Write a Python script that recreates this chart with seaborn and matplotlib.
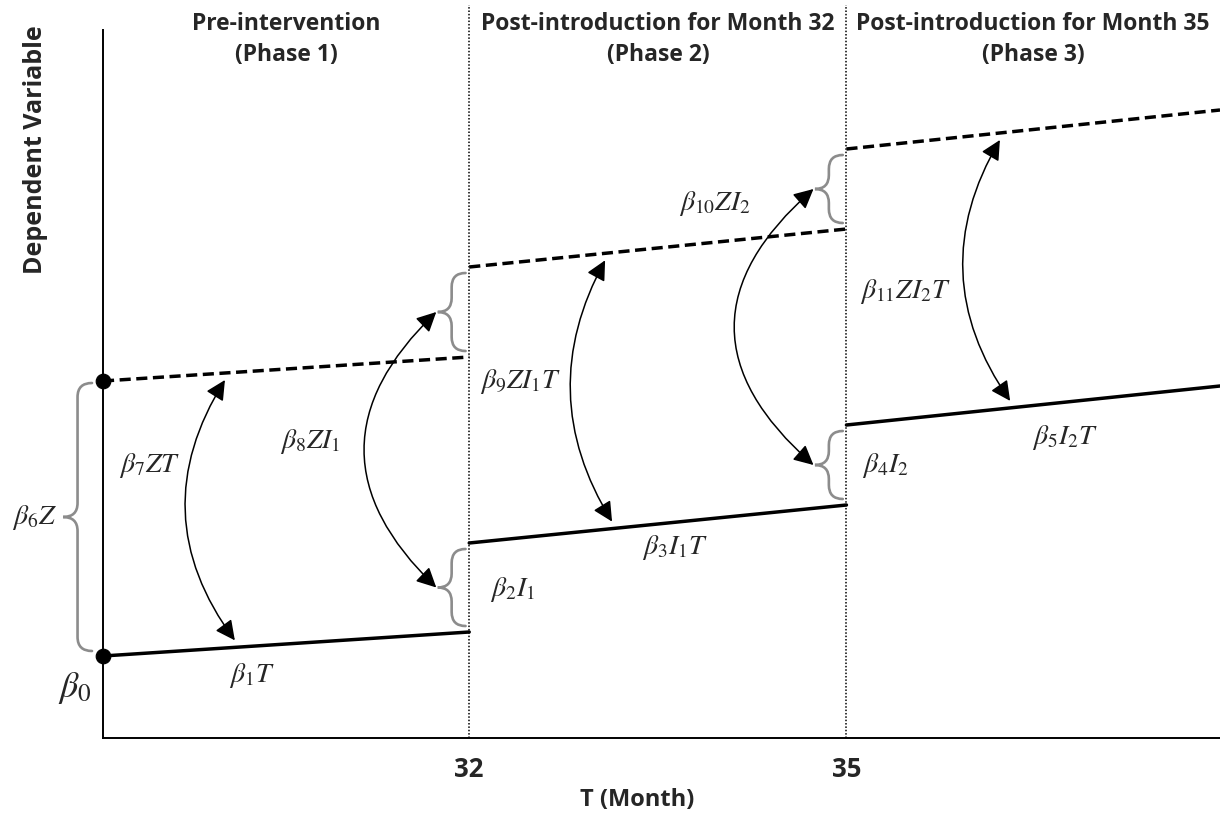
import numpy as np
import pandas as pd
import matplotlib.pyplot as plt
from matplotlib.path import Path
from matplotlib.patches import PathPatch, FancyArrowPatch
import seaborn as sns

## Schematic data (phase boundaries in schematic units, levels in arbitrary units)
PHASE_START = [0.0, 1.0, 2.03]
PHASE_END = [1.0, 2.03, 3.05]
PHASE_TITLES = ['Pre-intervention\n(Phase 1)',
                'Post-introduction for Month 32\n(Phase 2)',
                'Post-introduction for Month 35\n(Phase 3)']
TICK_POS = [1.0, 2.03]
TICK_LABELS = ['32', '35']

CONTROL_START = [0.82, 1.95, 3.13]
CONTROL_END = [1.06, 2.33, 3.52]
INTERV_START = [3.57, 4.71, 5.89]
INTERV_END = [3.81, 5.09, 6.28]

# coefficient labels: (text, x, y)
LABELS = [
    (r'$\beta_6Z$', -0.187, 2.20),
    (r'$\beta_7ZT$', 0.128, 2.72),
    (r'$\beta_8ZI_1$', 0.565, 2.96),
    (r'$\beta_1T$', 0.407, 0.63),
    (r'$\beta_2I_1$', 1.117, 1.48),
    (r'$\beta_9ZI_1T$', 1.139, 3.56),
    (r'$\beta_3I_1T$', 1.562, 1.90),
    (r'$\beta_{10}ZI_2$', 1.671, 5.34),
    (r'$\beta_4I_2$', 2.135, 2.72),
    (r'$\beta_{11}ZI_2T$', 2.19, 4.46),
    (r'$\beta_5I_2T$', 2.627, 3.00),
]

# slope arrows: (phase, x_top, x_bottom, rad)
SLOPE_ARROWS = [(0, 0.333, 0.36, 0.34), (1, 1.371, 1.39, 0.29), (2, 2.449, 2.477, 0.32)]

sns.set_theme(style='white')
plt.rcParams['font.family'] = ['Open Sans', 'DejaVu Sans']
plt.rcParams['mathtext.fontset'] = 'stix'

def lineValue(starts, ends, phase, x):
    ''' level of a segment at position x '''
    x0, x1 = PHASE_START[phase], PHASE_END[phase]
    return starts[phase] + (ends[phase] - starts[phase]) * (x - x0) / (x1 - x0)

def drawBrace(ax, x, yLow, yHigh, width, r=0.14, color='#8c8c8c'):
    ''' vertical curly brace, ends at x, tip pointing left; returns tip point '''
    xm = x - width / 2
    xt = x - width
    ym = (yLow + yHigh) / 2
    verts = [(x, yHigh), (xm, yHigh), (xm, yHigh - r),
             (xm, ym + r),
             (xm, ym), (xt, ym),
             (xm, ym), (xm, ym - r),
             (xm, yLow + r),
             (xm, yLow), (x, yLow)]
    codes = [Path.MOVETO, Path.CURVE3, Path.CURVE3,
             Path.LINETO,
             Path.CURVE3, Path.CURVE3,
             Path.CURVE3, Path.CURVE3,
             Path.LINETO,
             Path.CURVE3, Path.CURVE3]
    ax.add_patch(PathPatch(Path(verts, codes), fill=False, edgecolor=color, lw=1.9,
                           capstyle='round', clip_on=False))
    return xt, ym

def drawArrow(ax, top, bottom, rad):
    ax.add_patch(FancyArrowPatch(top, bottom, arrowstyle='<|-|>,head_length=0.6,head_width=0.3',
                                 connectionstyle=f'arc3,rad={rad}', mutation_scale=20,
                                 lw=1.1, color='black', shrinkA=0, shrinkB=0, clip_on=False))

fig = plt.figure(figsize=(12.2, 8.14), dpi=100)
ax = fig.add_axes([103 / 1220, 76 / 814, 1117 / 1220, 738 / 814])

# segments
rows = []
for i in range(3):
    rows.append({'T': PHASE_START[i], 'value': CONTROL_START[i], 'seg': f'c{i}', 'group': 'control'})
    rows.append({'T': PHASE_END[i], 'value': CONTROL_END[i], 'seg': f'c{i}', 'group': 'control'})
    rows.append({'T': PHASE_START[i], 'value': INTERV_START[i], 'seg': f'i{i}', 'group': 'intervention'})
    rows.append({'T': PHASE_END[i], 'value': INTERV_END[i], 'seg': f'i{i}', 'group': 'intervention'})
df = pd.DataFrame(rows)

sns.lineplot(data=df, x='T', y='value', units='seg', style='group', estimator=None,
             dashes={'control': '', 'intervention': (3.2, 1.6)}, color='black', lw=2.5,
             legend=False, sort=False, ax=ax)
sns.scatterplot(x=[PHASE_START[0], PHASE_START[0]], y=[CONTROL_START[0], INTERV_START[0]],
                color='black', s=110, edgecolor='black', zorder=5, clip_on=False, ax=ax)

ax.set_xlim(0, PHASE_END[-1])
ax.set_ylim(0, 7.38)

# phase boundaries
ax.vlines(PHASE_START[1:], 0, 7.33, colors='black', lw=1.1, linestyles=(0, (1, 1.2)))

# braces
inset = 0.06
b6 = drawBrace(ax, -0.03, CONTROL_START[0] + 0.05, INTERV_START[0] - 0.02, 0.079)
braceTips = []
for i in (1, 2):
    xb = PHASE_START[i] - 0.01
    up = drawBrace(ax, xb, INTERV_END[i - 1] + inset, INTERV_START[i] - inset, 0.076)
    low = drawBrace(ax, xb, CONTROL_END[i - 1] + inset, CONTROL_START[i] - inset, 0.076)
    braceTips.append((up, low))

# level-change arrows between braces
for (up, low), rad in zip(braceTips, (0.52, 0.57)):
    drawArrow(ax, (up[0] - 0.004, up[1]), (low[0] - 0.004, low[1]), rad)

# slope-change arrows between lines
for phase, xt, xb, rad in SLOPE_ARROWS:
    yt = lineValue(INTERV_START, INTERV_END, phase, xt) - 0.07
    yb = lineValue(CONTROL_START, CONTROL_END, phase, xb) + 0.07
    drawArrow(ax, (xt, yt), (xb, yb), rad)

# coefficient labels
for txt, x, y in LABELS:
    ax.text(x, y, txt, fontsize=20, ha='center', va='center', clip_on=False)
ax.text(-0.076, 0.50, r'$\beta_0$', fontsize=26, ha='center', va='center')

# phase titles
for x0, x1, title in zip(PHASE_START, PHASE_END, PHASE_TITLES):
    ax.text((x0 + x1) / 2, 6.985, title, fontsize=16.5, fontweight='bold', ha='center',
            va='center', linespacing=1.42)

# axes styling
sns.despine(ax=ax)
ax.spines['left'].set_bounds(0, 7.08)
for s in ('left', 'bottom'):
    ax.spines[s].set_color('black')
    ax.spines[s].set_linewidth(1.4)
ax.set_yticks([])
ax.set_xticks(TICK_POS)
ax.set_xticklabels(TICK_LABELS, fontsize=18.5, fontweight='bold')
ax.tick_params(axis='x', length=0, pad=13)
ax.set_xlabel('T (Month)', fontsize=17, fontweight='bold')
ax.xaxis.set_label_coords(0.478, -0.068)
ax.set_ylabel('Dependent Variable', fontsize=18, fontweight='bold')
ax.yaxis.set_label_coords(-0.049, 0.797)

fig.savefig('out.png', dpi=100)
